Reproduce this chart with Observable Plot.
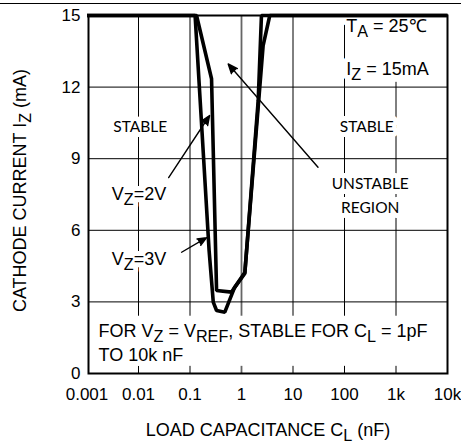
<!DOCTYPE html>
<html><head><meta charset="utf-8">
<script src="https://cdn.jsdelivr.net/npm/d3@7"></script>
<script src="https://cdn.jsdelivr.net/npm/@observablehq/plot@0.6"></script>
<style>
body{margin:0;background:#fff;}
#wrap{position:relative;width:461px;height:444px;overflow:hidden;}
#topline{position:absolute;left:0;top:3px;width:461px;height:0;border-top:1.5px solid #000;}
</style></head><body>
<div id="wrap"><div id="chart"></div><div id="topline"></div></div>
<script>
// ---- data ----
const capV2 = [0.001, 0.134, 0.262, 0.328, 0.64, 1.16, 2.16, 2.63, 3.54, 10000];
const curV2 = [15, 15, 12.35, 3.48, 3.41, 4.23, 11.44, 13.74, 15, 15];
const capV3 = [0.001, 0.1256, 0.235, 0.283, 0.328, 0.474, 0.731, 1.16, 2.11, 2.44, 10000];
const curV3 = [15, 15, 5.15, 2.99, 2.64, 2.57, 3.6, 4.19, 11.44, 15, 15];
const xTicks = [0.001, 0.01, 0.1, 1, 10, 100, 1000, 10000];
const xTickLabels = ["0.001", "0.01", "0.1", "1", "10", "100", "1k", "10k"];
const yTicks = [0, 3, 6, 9, 12, 15];
const xGrid = [0.01, 0.1, 10, 100, 1000];
const xGridMid = [1];
const yGrid = [3, 6, 9, 12];

// annotations
const noteText = ["V_{Z}=2V", "V_{Z}=3V", "T_{A} = 25℃", "I_{Z} = 15mA", "FOR V_{Z} = V_{REF}, STABLE FOR C_{L} = 1pF", "TO 10k nF"];
const noteX = [0.00303, 0.00303, 108, 108, 0.00167, 0.00167];
const noteY = [7.50, 4.78, 14.54, 12.74, 1.77, 0.75];
const regionText = ["STABLE", "STABLE", "UNSTABLE", "REGION"];
const regionX = [0.0108, 270, 316, 316];
const regionY = [10.31, 10.31, 7.92, 6.95];
const arrowX1 = [0.0385, 0.0687, 30.6];
const arrowY1 = [8.21, 5.08, 8.64];
const arrowX2 = [0.240, 0.210, 0.552];
const arrowY2 = [10.81, 5.69, 12.97];
const boxX1 = [0.001, 108];
const boxX2 = [10000, 10000];
const boxY1 = [0.3, 12.2];
const boxY2 = [2.4, 14.95];

const rows = [
  ...capV2.map((c, i) => ({series: "2V", c, i: curV2[i]})),
  ...capV3.map((c, i) => ({series: "3V", c, i: curV3[i]}))
];
const idx = n => d3.range(n);
const halo = {fill: "#fff", stroke: "#fff", strokeWidth: 10};

const chart = Plot.plot({
  width: 461, height: 444,
  marginLeft: 88, marginRight: 14, marginTop: 15, marginBottom: 71,
  style: {fontFamily: "'Liberation Sans', Arial, sans-serif", background: "#fff", color: "#000"},
  x: {type: "log", domain: [0.001, 10000], range: [86.5, 447]},
  y: {domain: [0, 15], range: [373, 15]},
  marks: [
    Plot.ruleX(xGrid, {stroke: "#000", strokeWidth: 1}),
    Plot.ruleX(xGridMid, {stroke: "#666", strokeWidth: 1.8}),
    Plot.ruleY(yGrid, {stroke: "#000", strokeWidth: 1}),
    Plot.rect(idx(boxX1.length), {x1: i => boxX1[i], x2: i => boxX2[i], y1: i => boxY1[i], y2: i => boxY2[i], fill: "#fff"}),
    // halos
    Plot.text(idx(regionText.length), {x: i => regionX[i], y: i => regionY[i], text: i => regionText[i],
      fontFamily: "Lato, sans-serif", fontSize: 15.5, textAnchor: "middle", lineAnchor: "middle", ...halo}),
    Plot.text(idx(noteText.length), {x: i => noteX[i], y: i => noteY[i], text: i => noteText[i],
      fontSize: 18, textAnchor: "start", lineAnchor: "middle", ...halo}),
    // labels
    Plot.text(idx(regionText.length), {x: i => regionX[i], y: i => regionY[i], text: i => regionText[i],
      fontFamily: "Lato, sans-serif", fontSize: 15.5, textAnchor: "middle", lineAnchor: "middle", fill: "#000"}),
    Plot.text(idx(noteText.length), {x: i => noteX[i], y: i => noteY[i], text: i => noteText[i],
      fontSize: 18, textAnchor: "start", lineAnchor: "middle", fill: "#000"}),
    Plot.line(rows, {x: "c", y: "i", z: "series", stroke: "#000", strokeWidth: 3.6, strokeLinejoin: "miter", strokeLinecap: "butt"}),
    Plot.frame({stroke: "#000", strokeWidth: 2}),
    Plot.arrow(idx(arrowX1.length), {x1: i => arrowX1[i], y1: i => arrowY1[i], x2: i => arrowX2[i], y2: i => arrowY2[i],
      stroke: "#000", strokeWidth: 1.4, headLength: 11, headAngle: 45}),
    Plot.axisX({ticks: xTicks, tickFormat: d => xTickLabels[xTicks.indexOf(d)], tickSize: 0, tickPadding: 14, fontSize: 17, label: null}),
    Plot.axisY({ticks: yTicks, tickSize: 0, tickPadding: 8, fontSize: 17, label: null}),
    Plot.text(["LOAD CAPACITANCE C_{L} (nF)"], {frameAnchor: "bottom", dy: 57, fontSize: 18, textAnchor: "middle", lineAnchor: "middle"}),
    Plot.text(["CATHODE CURRENT I_{Z} (mA)"], {frameAnchor: "left", dx: -68, dy: -4, rotate: -90, fontSize: 18, textAnchor: "middle", lineAnchor: "middle"})
  ]
});
document.getElementById("chart").appendChild(chart);

// filled arrowheads
chart.querySelectorAll('g[aria-label="arrow"] path').forEach(p => p.setAttribute("fill", "#000"));

// subscripts
const NS = "http://www.w3.org/2000/svg";
chart.querySelectorAll("text").forEach(t => {
  const s = t.textContent;
  if (!s.includes("_{")) return;
  const fs = parseFloat(getComputedStyle(t).fontSize) || 18;
  while (t.firstChild) t.removeChild(t.firstChild);
  let shifted = false;
  for (const p of s.split(/(_\{[^}]*\})/)) {
    if (!p) continue;
    const ts = document.createElementNS(NS, "tspan");
    if (p.startsWith("_{")) {
      ts.textContent = p.slice(2, -1);
      ts.setAttribute("dy", (fs * 0.26).toFixed(2));
      ts.setAttribute("font-size", (fs * 0.9).toFixed(2));
      shifted = true;
    } else {
      ts.textContent = p;
      if (shifted) { ts.setAttribute("dy", (-fs * 0.26).toFixed(2)); shifted = false; }
    }
    t.appendChild(ts);
  }
});
</script>
</body></html>
